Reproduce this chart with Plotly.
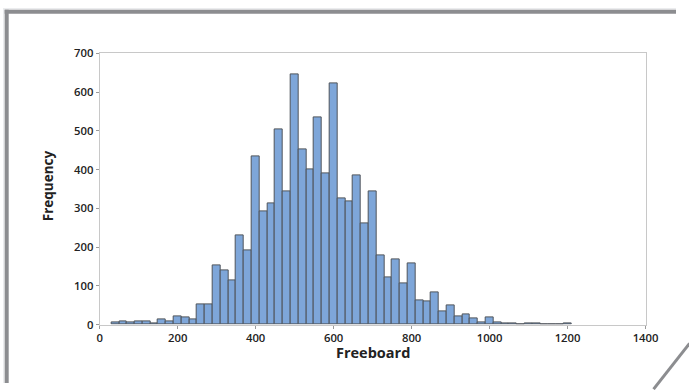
import plotly.graph_objects as go

W, H = 689, 390
# the photographed page is slightly scaled/shifted; map target picture pixels -> page pixels
SX, OX, SY, OY = 0.977, 2.3, 0.968, 6.3

bin_centers = [40, 60, 80, 100, 120, 140, 160, 180, 200, 220, 240, 260, 280,
               300, 320, 340, 360, 380, 400, 420, 440, 460, 480, 500, 520, 540,
               560, 580, 600, 620, 640, 660, 680, 700, 720, 740, 760, 780, 800,
               820, 840, 860, 880, 900, 920, 940, 960, 980, 1000, 1020, 1040,
               1060, 1080, 1100, 1120, 1140, 1160, 1180, 1200]
frequency = [5, 7, 5, 7, 7, 2, 13, 7, 22, 19, 14, 52, 51,
             153, 140, 113, 230, 192, 435, 293, 313, 505, 345, 646, 452, 400,
             534, 389, 623, 325, 318, 386, 262, 344, 178, 121, 169, 107, 158,
             63, 59, 83, 34, 50, 20, 27, 15, 5, 18, 5, 4,
             2, 1, 4, 2, 0, 0, 0, 2]
bin_width = 20

x_ticks = [0, 200, 400, 600, 800, 1000, 1200, 1400]
y_ticks = [0, 100, 200, 300, 400, 500, 600, 700]

fig = go.Figure()
fig.add_trace(go.Bar(
    x=bin_centers, y=frequency, width=bin_width,
    marker=dict(color="#7ea6d9", line=dict(color="#4f545b", width=1)),
    hoverinfo="x+y",
))

def fx(t):  # target picture x -> paper fraction
    return ((t - OX) / SX) / W

def fy(t):  # target picture y -> paper fraction
    return 1 - ((t - OY) / SY) / H

BORDER = "#8c8d90"
LIGHT = "#ebecee"
shapes = [
    dict(type="rect", xref="paper", yref="paper", x0=0, x1=1, y0=fy(8), y1=1,
         fillcolor=LIGHT, line=dict(width=0), layer="below"),
    dict(type="rect", xref="paper", yref="paper", x0=0, x1=fx(4), y0=0, y1=1,
         fillcolor=LIGHT, line=dict(width=0), layer="below"),
    dict(type="rect", xref="paper", yref="paper", x0=fx(4), x1=1, y0=fy(12), y1=fy(8),
         fillcolor=BORDER, line=dict(width=0), layer="below"),
    dict(type="rect", xref="paper", yref="paper", x0=fx(4), x1=fx(8), y0=0, y1=fy(8),
         fillcolor=BORDER, line=dict(width=0), layer="below"),
    dict(type="line", xref="paper", yref="paper", x0=fx(689), y0=fy(344),
         x1=fx(653), y1=fy(390), line=dict(color=BORDER, width=3)),
]

TXT = "#222222"
annotations = [
    dict(text="Freeboard", xref="paper", yref="paper", x=fx(372), y=fy(353),
         xanchor="center", yanchor="middle", showarrow=False,
         font=dict(family="Open Sans", size=14.5, color=TXT, weight=700)),
    dict(text="Frequency", xref="paper", yref="paper", x=fx(47), y=fy(185),
         xanchor="center", yanchor="middle", showarrow=False, textangle=-90,
         font=dict(family="Open Sans", size=13.5, color=TXT, weight=700)),
]

axis_font = dict(family="Open Sans", size=11.3, color=TXT, weight=600)

fig.update_layout(
    width=W, height=H,
    margin=dict(l=0, r=0, t=0, b=0),
    paper_bgcolor="white",
    plot_bgcolor="white",
    bargap=0,
    showlegend=False,
    shapes=shapes,
    annotations=annotations,
    xaxis=dict(
        domain=[fx(99), fx(645)],
        range=[0, 1400], tickvals=x_ticks,
        ticks="outside", ticklen=3, tickcolor="#9a9a9a",
        showline=True, linecolor="#c8c8c8", linewidth=1, mirror=True,
        showgrid=False, zeroline=False,
        tickfont=axis_font,
    ),
    yaxis=dict(
        domain=[fy(325), fy(52)],
        range=[0, 700], tickvals=y_ticks,
        ticks="outside", ticklen=3, tickcolor="#9a9a9a",
        showline=True, linecolor="#c8c8c8", linewidth=1, mirror=True,
        showgrid=False, zeroline=False,
        tickfont=axis_font,
    ),
)

body_bg = ("linear-gradient(to bottom, rgba(0,0,0,0) 383px, #ebecee 383px) 0 0 / 689px 390px repeat, "
           "linear-gradient(to right, rgba(0,0,0,0) 686px, #ebecee 686px) 0 0 / 689px 390px repeat, "
           "#ffffff")

fig.write_html(
    "out.html",
    config={"displayModeBar": False},
    post_script="document.body.style.margin='0';document.body.style.background='" + body_bg + "';",
)
